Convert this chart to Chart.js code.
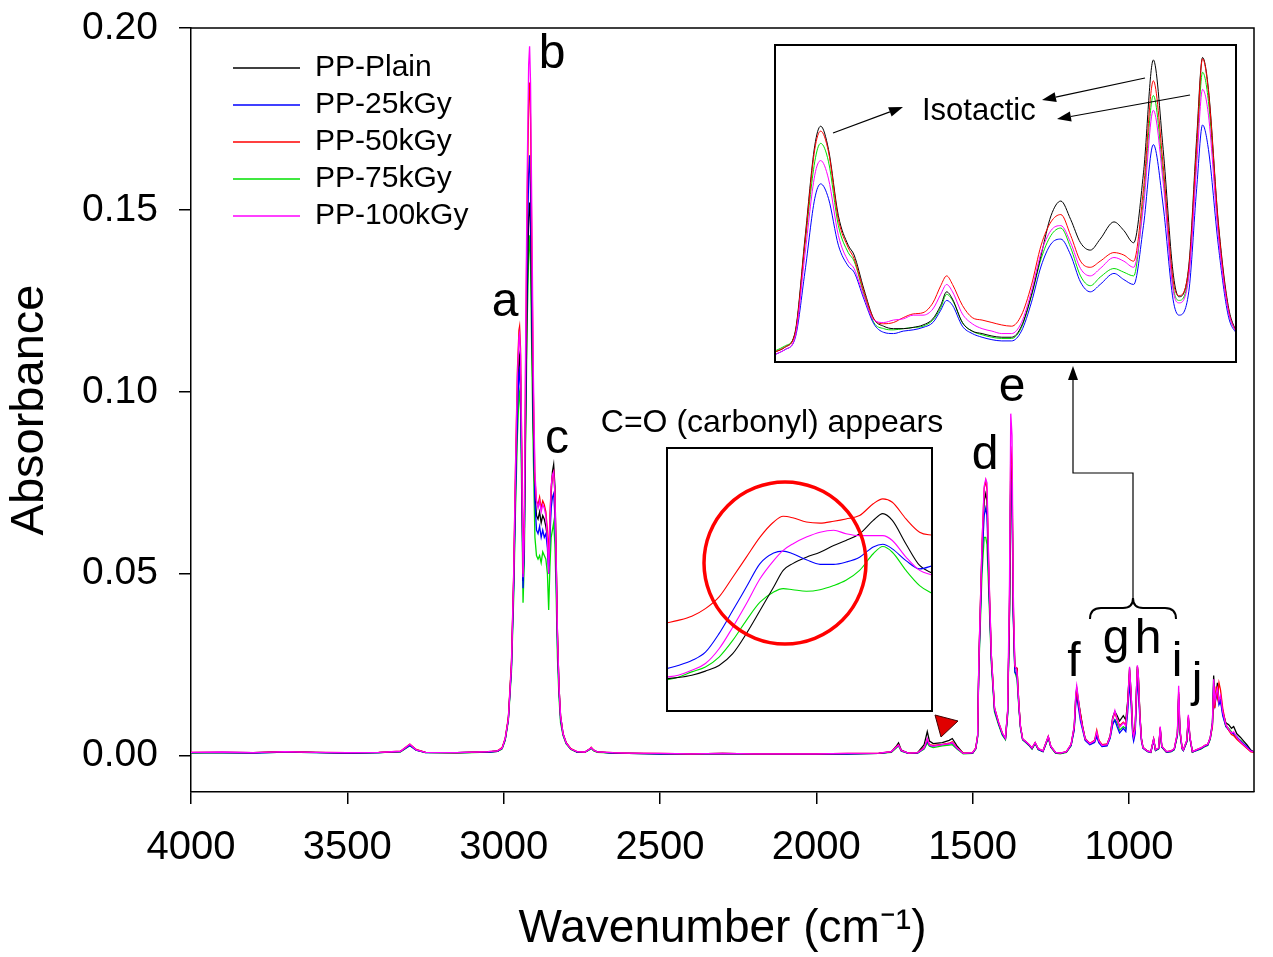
<!DOCTYPE html>
<html><head><meta charset="utf-8">
<script src="https://cdn.jsdelivr.net/npm/chart.js@4.4.1/dist/chart.umd.min.js"></script>
<style>
html,body{margin:0;padding:0;background:#fff;}
#wrap{position:relative;width:1273px;height:957px;background:#fff;}
canvas{position:absolute;display:block;}
#main{left:0;top:0;}
#inset1{left:666px;top:447px;}
#inset2{left:774px;top:44px;}
</style></head><body>
<div id="wrap">
<canvas id="main" width="1273" height="957"></canvas>
<canvas id="inset1" width="267" height="265"></canvas>
<canvas id="inset2" width="463" height="319"></canvas>
</div>
<script>
// ---------------- DATA ----------------
const seriesNames = ['PP-Plain','PP-25kGy','PP-50kGy','PP-75kGy','PP-100kGy'];
const xTickValues = [4000,3500,3000,2500,2000,1500,1000];
const yTickValues = [0,0.05,0.10,0.15,0.20];

const wavenumbers = [4000,3900,3800,3700,3600,3500,3400,3330,3300,3280,
3250,3150,3050,3020,3005,2995,2985,2975,2968,2962,
2956,2951,2949,2946,2942,2938,2934,2930,2925,2920,
2917,2914,2910,2905,2900,2895,2890,2885,2880,2875,
2870,2865,2860,2856,2852,2848,2844,2840,2836,2832,
2828,2823,2818,2810,2800,2785,2765,2740,2725,2720,
2712,2700,2650,2600,2500,2400,2300,2200,2100,2000,
1900,1800,1760,1745,1737,1728,1705,1676,1655,1645,
1638,1626,1597,1575,1565,1550,1530,1500,1490,1484,
1480,1470,1463,1458,1454,1448,1440,1430,1417,1405,
1395,1388,1382,1378,1374,1370,1365,1358,1352,1347,
1340,1330,1320,1310,1300,1290,1275,1258,1250,1235,
1220,1200,1185,1175,1170,1167,1163,1155,1148,1140,
1125,1110,1103,1096,1086,1070,1060,1052,1045,1038,
1030,1018,1010,1004,998,993,988,985,980,976,
973,970,965,960,955,940,930,921,915,905,
900,895,880,865,855,845,841,837,830,826,
815,810,805,797,785,770,757,748,740,733,
729,725,721,717,712,707,700,690,681,672,
665,655,643,633,623,610,600];

const absPlain = [.0008,.0009,.0008,.0011,.0009,.0007,.0008,.0011,.0030,.0016,
.0009,.0008,.0010,.0012,.0020,.0045,.0100,.0250,.0480,.0750,
.0980,.1090,.1100,.1040,.0800,.0480,.0600,.0900,.1250,.1480,
.1520,.1450,.1200,.0900,.0720,.0660,.0650,.0670,.0640,.0660,
.0650,.0630,.0600,.0520,.0620,.0720,.0780,.0800,.0740,.0550,
.0340,.0190,.0110,.0060,.0035,.0018,.0010,.0010,.0018,.0022,
.0015,.0010,.0007,.0006,.0005,.0005,.0006,.0005,.0005,.0004,
.0005,.0006,.0010,.0025,.0035,.0015,.0006,.0008,.0030,.0066,
.0040,.0033,.0036,.0042,.0047,.0027,.0006,.0007,.0020,.0055,
.0260,.0560,.0700,.0720,.0700,.0480,.0270,.0130,.0090,.0060,
.0047,.0120,.0400,.0800,.0760,.0400,.0240,.0240,.0140,.0080,
.0045,.0038,.0030,.0020,.0035,.0018,.0012,.0052,.0025,.0008,
.0006,.0010,.0030,.0080,.0165,.0185,.0160,.0115,.0080,.0047,
.0032,.0040,.0060,.0040,.0028,.0030,.0055,.0105,.0121,.0110,
.0095,.0110,.0098,.0150,.0240,.0170,.0074,.0054,.0079,.0180,
.0245,.0220,.0115,.0047,.0022,.0012,.0010,.0045,.0015,.0020,
.0075,.0025,.0010,.0012,.0018,.0060,.0170,.0070,.0020,.0015,
.0040,.0105,.0050,.0010,.0015,.0020,.0027,.0030,.0050,.0090,
.0220,.0150,.0170,.0200,.0150,.0160,.0120,.0090,.0085,.0075,
.0080,.0060,.0050,.0040,.0030,.0015,.0010];

const abs25kGy = [.0008,.0008,.0007,.0010,.0008,.0007,.0008,.0011,.0028,.0015,
.0008,.0008,.0010,.0012,.0020,.0045,.0100,.0240,.0460,.0720,
.0950,.1050,.1060,.1000,.0760,.0460,.0580,.0950,.1350,.1600,
.1650,.1550,.1250,.0920,.0700,.0620,.0610,.0630,.0600,.0620,
.0600,.0610,.0570,.0500,.0600,.0680,.0710,.0720,.0660,.0500,
.0310,.0180,.0100,.0058,.0034,.0018,.0010,.0010,.0017,.0021,
.0014,.0010,.0007,.0006,.0005,.0005,.0005,.0005,.0004,.0004,
.0005,.0006,.0010,.0022,.0028,.0013,.0006,.0007,.0020,.0040,
.0028,.0026,.0030,.0032,.0035,.0020,.0006,.0007,.0019,.0052,
.0250,.0540,.0660,.0680,.0660,.0470,.0260,.0125,.0088,.0058,
.0046,.0115,.0400,.0760,.0720,.0380,.0230,.0220,.0135,.0078,
.0044,.0037,.0029,.0019,.0034,.0017,.0011,.0050,.0024,.0008,
.0006,.0010,.0028,.0070,.0145,.0165,.0140,.0095,.0070,.0042,
.0030,.0036,.0052,.0035,.0025,.0027,.0048,.0085,.0098,.0080,
.0062,.0075,.0066,.0120,.0200,.0140,.0055,.0040,.0060,.0150,
.0205,.0180,.0098,.0040,.0020,.0011,.0009,.0042,.0014,.0019,
.0072,.0024,.0010,.0011,.0017,.0056,.0160,.0066,.0019,.0014,
.0038,.0100,.0048,.0010,.0014,.0019,.0026,.0029,.0046,.0085,
.0195,.0140,.0160,.0180,.0140,.0150,.0110,.0080,.0070,.0062,
.0060,.0052,.0040,.0032,.0025,.0012,.0010];

const abs50kGy = [.0009,.0009,.0008,.0011,.0009,.0008,.0009,.0012,.0032,.0017,
.0009,.0008,.0011,.0013,.0022,.0048,.0105,.0260,.0500,.0800,
.1060,.1170,.1180,.1120,.0850,.0500,.0640,.1050,.1500,.1800,
.1850,.1750,.1400,.1000,.0760,.0700,.0690,.0710,.0680,.0700,
.0690,.0670,.0620,.0540,.0660,.0740,.0770,.0780,.0720,.0540,
.0340,.0190,.0110,.0060,.0036,.0019,.0011,.0010,.0018,.0023,
.0015,.0010,.0008,.0007,.0006,.0005,.0006,.0005,.0005,.0005,
.0006,.0007,.0011,.0024,.0030,.0014,.0007,.0008,.0022,.0045,
.0030,.0028,.0031,.0034,.0038,.0022,.0007,.0008,.0021,.0056,
.0265,.0580,.0735,.0755,.0730,.0500,.0275,.0132,.0092,.0062,
.0048,.0122,.0420,.0850,.0800,.0420,.0245,.0240,.0142,.0082,
.0046,.0039,.0031,.0021,.0036,.0019,.0013,.0053,.0026,.0009,
.0007,.0011,.0031,.0078,.0160,.0180,.0155,.0115,.0078,.0046,
.0034,.0042,.0070,.0042,.0030,.0032,.0054,.0100,.0118,.0100,
.0082,.0092,.0085,.0145,.0235,.0165,.0068,.0055,.0077,.0178,
.0245,.0220,.0113,.0045,.0022,.0012,.0010,.0046,.0016,.0021,
.0078,.0026,.0011,.0013,.0019,.0062,.0175,.0072,.0021,.0016,
.0041,.0108,.0051,.0011,.0016,.0021,.0028,.0031,.0048,.0080,
.0180,.0130,.0190,.0160,.0200,.0180,.0130,.0085,.0070,.0058,
.0055,.0045,.0035,.0028,.0020,.0010,.0009];

const abs75kGy = [.0007,.0008,.0007,.0010,.0008,.0007,.0008,.0010,.0027,.0015,
.0008,.0007,.0010,.0012,.0018,.0042,.0095,.0230,.0430,.0680,
.0880,.0990,.1000,.0950,.0700,.0420,.0530,.0850,.1180,.1380,
.1430,.1350,.1100,.0820,.0600,.0550,.0540,.0550,.0530,.0560,
.0550,.0540,.0500,.0400,.0520,.0600,.0620,.0640,.0580,.0440,
.0270,.0160,.0090,.0055,.0032,.0017,.0010,.0009,.0016,.0020,
.0013,.0009,.0007,.0006,.0005,.0004,.0005,.0004,.0004,.0004,
.0005,.0006,.0009,.0020,.0027,.0012,.0006,.0007,.0018,.0035,
.0026,.0022,.0027,.0029,.0030,.0018,.0005,.0006,.0018,.0050,
.0240,.0500,.0600,.0600,.0580,.0440,.0250,.0120,.0085,.0056,
.0044,.0110,.0380,.0770,.0730,.0390,.0230,.0210,.0130,.0075,
.0043,.0036,.0028,.0018,.0033,.0016,.0011,.0048,.0023,.0007,
.0005,.0009,.0027,.0074,.0150,.0170,.0148,.0110,.0074,.0044,
.0031,.0038,.0058,.0037,.0026,.0028,.0050,.0090,.0099,.0090,
.0070,.0080,.0074,.0138,.0225,.0158,.0064,.0051,.0073,.0170,
.0238,.0212,.0109,.0044,.0021,.0011,.0009,.0043,.0014,.0018,
.0070,.0023,.0009,.0011,.0016,.0055,.0160,.0065,.0018,.0014,
.0037,.0098,.0046,.0009,.0014,.0018,.0025,.0028,.0045,.0082,
.0200,.0145,.0165,.0175,.0145,.0155,.0115,.0080,.0075,.0065,
.0060,.0048,.0042,.0033,.0022,.0012,.0010];

const abs100kGy = [.0009,.0010,.0008,.0011,.0009,.0008,.0009,.0012,.0031,.0016,
.0009,.0008,.0011,.0013,.0020,.0047,.0100,.0250,.0490,.0790,
.1040,.1150,.1160,.1100,.0830,.0490,.0620,.1100,.1580,.1900,
.1950,.1850,.1500,.1050,.0780,.0700,.0680,.0700,.0670,.0690,
.0680,.0660,.0600,.0500,.0640,.0740,.0770,.0780,.0720,.0540,
.0340,.0190,.0110,.0060,.0035,.0018,.0011,.0010,.0018,.0022,
.0015,.0010,.0008,.0007,.0006,.0005,.0006,.0005,.0005,.0005,
.0006,.0007,.0011,.0023,.0029,.0014,.0007,.0008,.0021,.0047,
.0029,.0026,.0030,.0033,.0036,.0021,.0006,.0008,.0020,.0056,
.0265,.0580,.0740,.0760,.0750,.0510,.0275,.0132,.0092,.0062,
.0048,.0125,.0480,.0940,.0880,.0450,.0250,.0230,.0140,.0080,
.0046,.0039,.0031,.0021,.0036,.0019,.0013,.0053,.0026,.0009,
.0007,.0011,.0031,.0082,.0170,.0192,.0165,.0105,.0076,.0046,
.0033,.0040,.0065,.0040,.0028,.0030,.0053,.0102,.0124,.0100,
.0078,.0090,.0082,.0140,.0244,.0170,.0066,.0052,.0074,.0180,
.0248,.0222,.0110,.0045,.0022,.0012,.0010,.0046,.0016,.0021,
.0080,.0026,.0011,.0013,.0019,.0064,.0192,.0076,.0021,.0016,
.0042,.0112,.0052,.0011,.0016,.0021,.0028,.0031,.0049,.0088,
.0210,.0150,.0172,.0185,.0150,.0165,.0120,.0085,.0072,.0062,
.0065,.0050,.0038,.0030,.0022,.0012,.0010];

// Carbonyl inset (milli-absorbance)
const carbonylWn = [1804,1795,1785,1775,1765,1755,1745,1735,1725,1718,1711,1701,1691,1681,1672,1662,1652,1645,1638,1628,1618,1608];
const carbonylPlain = [0.88,0.91,0.97,1.08,1.23,1.54,2.07,2.68,3.30,3.74,3.92,4.09,4.22,4.40,4.53,4.71,5.06,5.24,5.06,4.44,3.87,3.65];
const carbonyl25 = [1.14,1.23,1.36,1.58,2.07,2.68,3.30,3.92,4.20,4.25,4.18,4.02,3.90,3.90,3.96,4.09,4.36,4.43,4.31,4.00,3.78,3.87];
const carbonyl50 = [2.35,2.42,2.53,2.73,3.04,3.56,4.09,4.62,5.02,5.17,5.13,5.02,4.99,5.04,5.10,5.19,5.50,5.63,5.54,5.10,4.75,4.66];
const carbonyl75 = [0.84,0.92,1.06,1.19,1.45,1.89,2.42,2.90,3.17,3.26,3.23,3.19,3.23,3.34,3.48,3.74,4.18,4.37,4.22,3.74,3.34,3.11];
const carbonyl100 = [0.92,0.97,1.10,1.28,1.67,2.24,2.86,3.52,4.00,4.27,4.44,4.62,4.75,4.80,4.71,4.66,4.66,4.66,4.53,4.09,3.74,3.61];

// Isotactic inset (milli-absorbance)
const isoWn = [1190,1185,1180,1175,1170,1167,1163,1158,1153,1150,1145,1140,1135,1130,1125,1120,1115,1110,1106,1103,
1100,1095,1090,1085,1080,1075,1070,1065,1060,1055,1050,1045,1040,1035,1030,1025,1018,1013,1008,1003,
998,993,988,985,980,976,973,970,965,960,955];
const isoPlain = [0.9,1.3,2.5,10.1,17.7,19.3,17.4,12.0,9.6,8.8,6.0,3.6,3.0,2.8,2.8,2.9,3.1,3.6,4.7,5.8,
5.2,3.3,2.6,2.4,2.2,2.1,2.1,3.0,5.5,8.8,12.0,13.2,11.7,9.8,9.2,10.1,11.5,10.8,9.8,15.5,
24.7,17.4,7.4,5.4,7.9,18.3,24.9,22.3,11.5,4.7,2.2];
const iso25 = [0.7,1.1,2.0,7.4,13.4,14.6,13.4,9.6,7.9,7.4,5.2,3.2,2.5,2.4,2.6,2.7,2.9,3.3,4.3,5.1,
4.7,3.0,2.4,2.1,1.9,1.8,1.8,2.6,4.9,7.9,9.7,10.1,8.8,6.6,5.8,6.4,7.3,6.8,6.4,11.2,
17.8,12.8,5.2,3.9,5.8,14.2,19.4,17.4,9.6,3.9,2.2];
const iso50 = [0.9,1.3,2.4,9.8,17.4,18.9,17.2,11.7,9.4,8.5,5.8,3.6,3.2,3.3,3.7,4.0,4.1,4.9,6.3,7.1,
6.4,4.7,3.7,3.5,3.3,3.1,3.0,3.9,6.3,9.6,11.5,12.1,10.4,8.3,7.8,8.3,9.0,8.8,8.3,14.2,
23.0,16.1,6.8,5.5,7.7,17.7,24.8,22.1,11.3,4.5,2.2];
const iso75 = [1.0,1.4,2.4,9.6,16.4,17.9,16.4,11.2,9.0,8.3,5.6,3.3,2.8,2.7,2.8,2.9,3.0,3.5,4.5,5.6,
5.1,3.3,2.6,2.3,2.1,2.0,2.0,2.9,5.4,8.5,10.4,11.0,9.4,7.1,6.3,7.0,7.7,7.4,7.1,13.4,
21.8,15.3,6.3,5.1,7.3,16.9,23.7,21.3,10.9,4.4,2.2];
const iso100 = [0.7,1.1,2.1,8.8,15.3,16.5,15.0,10.4,8.3,7.7,5.4,3.5,3.3,3.5,3.6,3.9,3.9,4.4,5.6,6.4,
5.8,4.0,3.2,2.8,2.6,2.4,2.4,3.3,5.8,9.0,10.8,11.2,9.8,7.7,7.1,7.7,8.6,8.3,7.8,12.8,
20.6,14.7,6.0,4.9,7.0,16.1,22.3,20.2,10.4,4.3,2.2];

// ---------------- STYLE ----------------
const FONT = "'Liberation Sans', Arial, Helvetica, sans-serif";
const seriesColors = ['#000000','#0000ff','#ff0000','#00e000','#ff00ff'];
const drawOrder = [3,2,1,4,0];

function toXY(xs, ys){ return xs.map((x,i)=>({x:x, y:ys[i]})); }
function makeSets(xs, list, bw, smooth){
  return list.map((ys,i)=>({
    label: seriesNames[i], data: toXY(xs, ys), borderColor: seriesColors[i], backgroundColor: seriesColors[i],
    borderWidth: bw, pointRadius: 0, fill: false, order: drawOrder[i],
    tension: smooth ? 0.4 : 0, cubicInterpolationMode: smooth ? 'monotone' : 'default'
  }));
}
function arrow(ctx, x1, y1, x2, y2, len, hw){
  const a = Math.atan2(y2-y1, x2-x1);
  const bx = x2 - Math.cos(a)*len, by = y2 - Math.sin(a)*len;
  ctx.beginPath(); ctx.moveTo(x1,y1); ctx.lineTo(bx,by); ctx.stroke();
  ctx.beginPath(); ctx.moveTo(x2,y2);
  ctx.lineTo(bx + Math.sin(a)*hw, by - Math.cos(a)*hw);
  ctx.lineTo(bx - Math.sin(a)*hw, by + Math.cos(a)*hw);
  ctx.closePath(); ctx.fill();
}

const framePlugin = { id:'frame', afterDraw(chart){
  const {ctx, chartArea:a} = chart; ctx.save(); ctx.strokeStyle='#000'; ctx.lineWidth=1.5;
  ctx.beginPath(); ctx.moveTo(a.left,a.top); ctx.lineTo(a.right,a.top); ctx.lineTo(a.right,a.bottom); ctx.stroke(); ctx.restore(); } };

const legendPlace = { id:'legendPlace', afterLayout(chart){
  const lg = chart.legend; if(!lg) return;
  lg.left = 226; lg.top = 46; lg.width = 300; lg.right = 526; lg.bottom = 790; lg.height = 790-46; } };

const peakLabelPos = [['a',505,316],['b',552,68],['c',557,453],['d',985,469],['e',1012,401],['f',1074,676],['g',1116,653],['h',1148,653],['i',1177,676],['j',1197,696]];

const annotPlugin = { id:'annot', afterDraw(chart){
  const ctx = chart.ctx; ctx.save();
  ctx.fillStyle='#000'; ctx.strokeStyle='#000';
  ctx.font = '48px ' + FONT; ctx.textAlign='center'; ctx.textBaseline='alphabetic';
  peakLabelPos.forEach(p=>ctx.fillText(p[0],p[1],p[2]));
  ctx.font = '32px ' + FONT; ctx.fillText('C=O (carbonyl) appears', 772, 432);
  // brace
  ctx.lineWidth = 2; ctx.beginPath();
  ctx.moveTo(1090,619); ctx.quadraticCurveTo(1090,608,1101,608); ctx.lineTo(1123,608);
  ctx.quadraticCurveTo(1133,608,1133,598); ctx.quadraticCurveTo(1133,608,1143,608);
  ctx.lineTo(1165,608); ctx.quadraticCurveTo(1176,608,1176,619); ctx.stroke();
  // connector to isotactic inset
  ctx.lineWidth = 1.2; ctx.beginPath(); ctx.moveTo(1133,598); ctx.lineTo(1133,473); ctx.lineTo(1073,473); ctx.lineTo(1073,380); ctx.stroke();
  ctx.beginPath(); ctx.moveTo(1073,366); ctx.lineTo(1068,380); ctx.lineTo(1078,380); ctx.closePath(); ctx.fill();
  // red triangle marker
  ctx.beginPath(); ctx.moveTo(935,715); ctx.lineTo(958,721); ctx.lineTo(941,737); ctx.closePath();
  ctx.fillStyle='#e00000'; ctx.fill(); ctx.strokeStyle='#400000'; ctx.lineWidth=1; ctx.stroke();
  ctx.restore(); } };

const axisCommon = {
  grid:{display:true, drawOnChartArea:false, drawTicks:true, tickLength:12, color:'#000', lineWidth:1.5},
  border:{display:true, color:'#000', width:1.5}
};

new Chart(document.getElementById('main'), {
  type:'line',
  data:{ datasets: makeSets(wavenumbers, [absPlain, abs25kGy, abs50kGy, abs75kGy, abs100kGy], 1.3, false) },
  options:{
    responsive:false, animation:false, devicePixelRatio:1, parsing:true,
    layout:{padding:{top:28,right:19,left:0,bottom:0}},
    plugins:{
      legend:{ position:'chartArea', align:'start',
        labels:{ usePointStyle:true, pointStyle:'line', pointStyleWidth:67, padding:7, color:'#000',
          font:{family:FONT, size:30},
          sort:(a,b)=>a.datasetIndex-b.datasetIndex,
          generateLabels:(chart)=>Chart.defaults.plugins.legend.labels.generateLabels(chart).map(it=>Object.assign(it,{lineWidth:1.6, pointStyle:'line'})) } },
      tooltip:{enabled:false}, title:{display:false}
    },
    scales:{
      x:{ type:'linear', reverse:true, min:600, max:4000,
        afterBuildTicks:(ax)=>{ ax.ticks = xTickValues.map(v=>({value:v})); },
        afterFit:(s)=>{ s.height = 165; s.paddingLeft = 0; s.paddingRight = 0; s.paddingTop = 0; s.paddingBottom = 0; },
        ticks:{ autoSkip:false, maxRotation:0, padding:20, color:'#000', font:{family:FONT,size:40}, callback:(v)=>String(v) },
        grid:axisCommon.grid, border:axisCommon.border,
        title:{ display:true, text:'Wavenumber (cm\u207B\u00B9)', color:'#000', font:{family:FONT,size:46}, padding:{top:0,bottom:0} } },
      y:{ type:'linear', min:-0.01, max:0.20,
        afterBuildTicks:(ax)=>{ ax.ticks = yTickValues.map(v=>({value:v})); },
        afterFit:(s)=>{ s.width = 191; s.paddingTop = 0; s.paddingBottom = 0; s.paddingLeft = 0; s.paddingRight = 0; },
        ticks:{ padding:21, color:'#000', font:{family:FONT,size:39}, callback:(v)=>Number(v).toFixed(2) },
        grid:axisCommon.grid, border:axisCommon.border,
        title:{ display:true, text:'Absorbance', color:'#000', font:{family:FONT,size:47}, padding:{top:2,bottom:0} } }
    }
  },
  plugins:[legendPlace, framePlugin, annotPlugin]
});

function insetOptions(xmin, xmax, ymin, ymax){
  return { responsive:false, animation:false, devicePixelRatio:1,
    layout:{padding:0},
    plugins:{legend:{display:false}, tooltip:{enabled:false}},
    scales:{ x:{type:'linear', reverse:true, min:xmin, max:xmax, display:false},
             y:{type:'linear', min:ymin, max:ymax, display:false} } };
}
const whiteBg = { id:'whiteBg', beforeDraw(chart){ const c=chart.ctx; c.save(); c.fillStyle='#fff'; c.fillRect(0,0,chart.width,chart.height); c.restore(); } };
const boxBorder = { id:'boxBorder', afterDraw(chart){ const c=chart.ctx; c.save(); c.strokeStyle='#000'; c.lineWidth=2; c.strokeRect(1,1,chart.width-2,chart.height-2); c.restore(); } };

const circlePlugin = { id:'circle', afterDatasetsDraw(chart){ const c=chart.ctx; c.save(); c.strokeStyle='#ff0000'; c.lineWidth=3.5;
  c.beginPath(); c.arc(119,116,81,0,Math.PI*2); c.stroke(); c.restore(); } };

new Chart(document.getElementById('inset1'), {
  type:'line',
  data:{ datasets: makeSets(carbonylWn, [carbonylPlain, carbonyl25, carbonyl50, carbonyl75, carbonyl100], 1.1, true) },
  options: insetOptions(1608.2, 1803.9, 0, 7.0),
  plugins:[whiteBg, circlePlugin, boxBorder]
});

const isoAnnot = { id:'isoAnnot', afterDraw(chart){ const c=chart.ctx; c.save();
  c.fillStyle='#000'; c.strokeStyle='#000'; c.font='31px ' + FONT; c.textAlign='left'; c.textBaseline='alphabetic';
  c.fillText('Isotactic', 148, 76);
  c.lineWidth=1.2;
  arrow(c, 59, 89, 129, 63, 14, 5);
  arrow(c, 371, 34, 268, 56, 14, 5);
  arrow(c, 416, 51, 283, 75, 14, 5);
  c.restore(); } };

new Chart(document.getElementById('inset2'), {
  type:'line',
  data:{ datasets: makeSets(isoWn, [isoPlain, iso25, iso50, iso75, iso100], 1.0, true) },
  options: insetOptions(955.5, 1190.7, 0, 26.0),
  plugins:[whiteBg, boxBorder, isoAnnot]
});
</script>
</body></html>
